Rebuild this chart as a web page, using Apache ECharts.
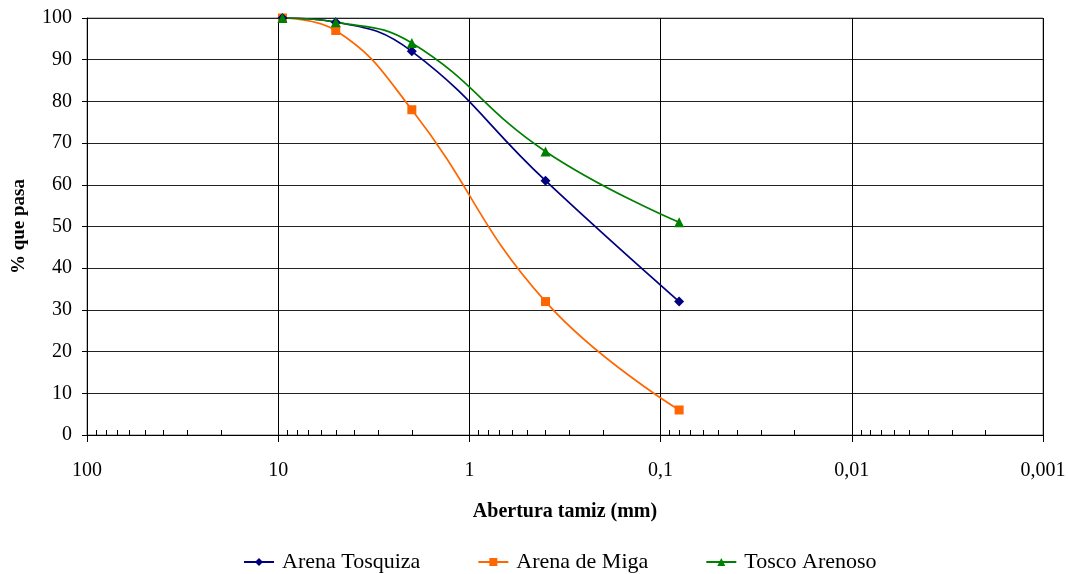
<!DOCTYPE html>
<html>
<head>
<meta charset="utf-8">
<script src="https://cdn.jsdelivr.net/npm/echarts@6/dist/echarts.min.js"></script>
<style>
  html, body { margin: 0; padding: 0; background: #fff; }
  #chart { width: 1068px; height: 574px; }
</style>
</head>
<body>
<div id="chart"></div>
<script>
// Sieve openings (mm) and cumulative percentage passing for each soil
const sieveOpenings = [9.5, 5, 2, 0.4, 0.08];
const arenaTosquiza = [100, 99, 92, 61, 32];
const arenaDeMiga = [100, 97, 78, 32, 6];
const toscoArenoso = [100, 99, 94, 68, 51];

const seriesNames = ['Arena Tosquiza', 'Arena de Miga', 'Tosco Arenoso'];

// Decade ticks on the logarithmic opening axis and their labels
const xTickValues = [100, 10, 1, 0.1, 0.01, 0.001];
const xTickLabels = ['100', '10', '1', '0,1', '0,01', '0,001'];
// Minor tick mantissas inside each decade
const minorMantissas = [2, 3, 4, 5, 6, 7, 8, 9];
const minorDecades = [10, 1, 0.1, 0.01, 0.001];

const yTickValues = [0, 10, 20, 30, 40, 50, 60, 70, 80, 90, 100];

const FONT = '"Liberation Serif", "DejaVu Serif", serif';

const labelByExp = {};
xTickValues.forEach((v, i) => { labelByExp[Math.round(Math.log10(v))] = xTickLabels[i]; });

const minorTicks = [];
minorDecades.forEach(d => minorMantissas.forEach(m => minorTicks.push([m * d, 0])));

const pairs = vals => sieveOpenings.map((x, i) => [x, vals[i]]);

const chart = echarts.init(document.getElementById('chart'), null, { renderer: 'canvas' });

chart.setOption({
  animation: false,
  backgroundColor: '#ffffff',
  textStyle: { fontFamily: FONT },
  grid: {
    left: 87, right: 25, top: 18, bottom: 139,
    outerBoundsMode: 'none',
    containLabel: false,
    show: true, borderColor: '#808080', borderWidth: 1, backgroundColor: 'transparent'
  },
  xAxis: {
    type: 'log',
    logBase: 10,
    min: 0.001,
    max: 100,
    inverse: true,
    name: 'Abertura tamiz (mm)',
    nameLocation: 'middle',
    nameGap: 67,
    nameTextStyle: { fontFamily: FONT, fontSize: 20, fontWeight: 'bold', color: '#000' },
    axisLine: { show: true, onZero: false, lineStyle: { color: '#000', width: 1 } },
    axisTick: { show: true, inside: false, length: 7, lineStyle: { color: '#000' } },
    axisLabel: {
      margin: 26,
      fontFamily: FONT, fontSize: 20, color: '#000',
      formatter: v => labelByExp[Math.round(Math.log10(v))] || ''
    },
    splitLine: { show: true, lineStyle: { color: '#000', width: 1 } },
    minorTick: { show: false }
  },
  yAxis: {
    type: 'value',
    min: 0,
    max: 100,
    interval: 10,
    name: '% que pasa',
    nameLocation: 'middle',
    nameGap: 58,
    nameTextStyle: { fontFamily: FONT, fontSize: 19, fontWeight: 'bold', color: '#000' },
    axisLine: { show: true, lineStyle: { color: '#000', width: 1 } },
    axisTick: { show: true, inside: false, length: 5, lineStyle: { color: '#000' } },
    axisLabel: {
      margin: 15,
      fontFamily: FONT, fontSize: 20, color: '#000',
      formatter: v => (yTickValues.indexOf(v) >= 0 ? String(v) : '')
    },
    splitLine: { show: true, lineStyle: { color: '#222', width: 1 } }
  },
  legend: {
    data: seriesNames,
    top: 546,
    left: 238,
    itemGap: 57,
    itemWidth: 30,
    itemHeight: 10,
    textStyle: { fontFamily: FONT, fontSize: 22, color: '#000', padding: [0, 0, 0, 3] }
  },
  series: [
    {
      // short upward minor ticks on the horizontal axis at 2..9 of each decade
      name: 'minor',
      type: 'custom',
      data: minorTicks,
      silent: true,
      z: 5,
      clip: false,
      renderItem: (params, api) => {
        const p = api.coord([api.value(0), api.value(1)]);
        const x = Math.round(p[0]) + 0.5;
        return {
          type: 'line',
          shape: { x1: x, y1: p[1], x2: x, y2: p[1] - 5 },
          style: { stroke: '#000', lineWidth: 1 }
        };
      }
    },
    {
      name: seriesNames[0],
      type: 'line',
      data: pairs(arenaTosquiza),
      smooth: 0.45,
      symbol: 'diamond',
      symbolSize: 10,
      color: '#000080',
      lineStyle: { width: 1.7, color: '#000080' },
      itemStyle: { color: '#000080' },
      z: 4
    },
    {
      name: seriesNames[1],
      type: 'line',
      data: pairs(arenaDeMiga),
      smooth: 0.45,
      symbol: 'rect',
      symbolSize: 9,
      color: '#FF6600',
      lineStyle: { width: 1.7, color: '#FF6600' },
      itemStyle: { color: '#FF6600' },
      z: 3
    },
    {
      name: seriesNames[2],
      type: 'line',
      data: pairs(toscoArenoso),
      smooth: 0.45,
      symbol: 'triangle',
      symbolSize: 10,
      color: '#008000',
      lineStyle: { width: 1.7, color: '#008000' },
      itemStyle: { color: '#008000' },
      z: 4
    }
  ]
});
</script>
</body>
</html>
